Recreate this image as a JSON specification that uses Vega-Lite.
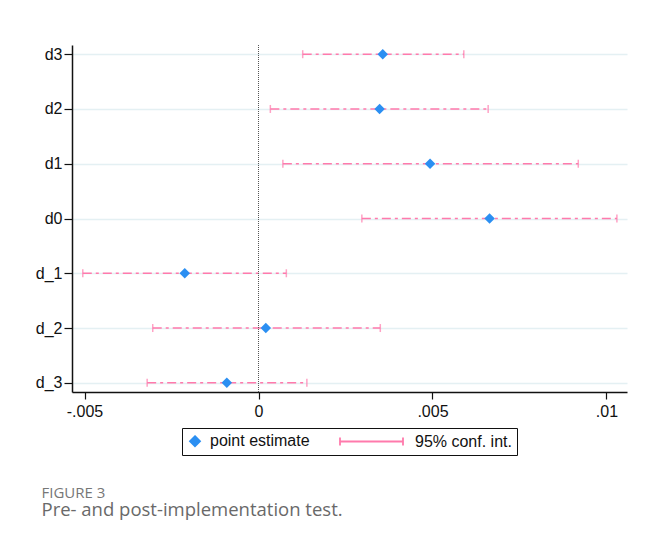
{
  "$schema": "https://vega.github.io/schema/vega-lite/v6.json",
  "autosize": {"type": "none"},
  "width": 555,
  "height": 347,
  "padding": {"left": 72, "top": 45, "right": 19, "bottom": 147},
  "background": "white",
  "config": {
    "font": "Liberation Sans",
    "view": {"stroke": null},
    "axis": {"labelFont": "Liberation Sans", "labelFontSize": 16, "labelColor": "#111", "domainColor": "#111", "tickColor": "#111", "domainWidth": 1.5, "tickWidth": 1.2, "tickSize": 7}
  },
  "data": {
    "values": [
      {"label": "d3", "est": 0.00357, "lo": 0.00127, "hi": 0.0059},
      {"label": "d2", "est": 0.00348, "lo": 0.00034, "hi": 0.0066},
      {"label": "d1", "est": 0.00493, "lo": 0.0007, "hi": 0.00919},
      {"label": "d0", "est": 0.00664, "lo": 0.00297, "hi": 0.0103},
      {"label": "d_1", "est": -0.00212, "lo": -0.00505, "hi": 0.0008},
      {"label": "d_2", "est": 0.00021, "lo": -0.00304, "hi": 0.0035},
      {"label": "d_3", "est": -0.00091, "lo": -0.0032, "hi": 0.00139}
    ]
  },
  "layer": [
    {
      "mark": {"type": "rule", "strokeDash": [9, 4, 3, 4], "strokeWidth": 1.5, "color": "#ff7aac"},
      "encoding": {
        "y": {
          "field": "label",
          "type": "nominal",
          "title": "FIGURE 3",
          "scale": {"type": "point", "domain": ["d3", "d2", "d1", "d0", "d_1", "d_2", "d_3"], "padding": 0.168},
          "axis": {
            "grid": true,
            "gridColor": "#e4f0f3",
            "gridWidth": 1.5,
            "tickSize": 8,
            "labelPadding": 2,
            "labelFontSize": 16,
            "titleAngle": 0,
            "titleX": -31,
            "titleY": 452,
            "titleAlign": "left",
            "titleBaseline": "alphabetic",
            "titleFont": "Open Sans",
            "titleFontSize": 15,
            "titleFontWeight": "normal",
            "titleColor": "#777777"
          }
        },
        "x": {
          "field": "lo",
          "type": "quantitative",
          "title": "Pre- and post-implementation test.",
          "scale": {"domain": [-0.00536, 0.01059], "nice": false, "zero": false},
          "axis": {
            "values": [-0.005, 0, 0.005, 0.01],
            "grid": false,
            "labelPadding": 4,
            "labelFontSize": 16,
            "labelExpr": "datum.value < 0 ? '-.005' : (datum.value == 0 ? '0' : (datum.value < 0.007 ? '.005' : '.01'))",
            "titleX": -31,
            "titleY": 123,
            "titleAlign": "left",
            "titleBaseline": "alphabetic",
            "titleFont": "Open Sans",
            "titleFontSize": 18.5,
            "titleFontWeight": "normal",
            "titleColor": "#696969"
          }
        },
        "x2": {"field": "hi"}
      }
    },
    {
      "mark": {"type": "tick", "color": "#ff7aac", "thickness": 1.5, "size": 8},
      "encoding": {
        "y": {"field": "label", "type": "nominal"},
        "x": {"field": "lo", "type": "quantitative"}
      }
    },
    {
      "mark": {"type": "tick", "color": "#ff7aac", "thickness": 1.5, "size": 8},
      "encoding": {
        "y": {"field": "label", "type": "nominal"},
        "x": {"field": "hi", "type": "quantitative"}
      }
    },
    {
      "mark": {"type": "rule", "strokeDash": [1, 1], "color": "#555", "strokeWidth": 1},
      "encoding": {
        "x": {"datum": 0, "type": "quantitative"}
      }
    },
    {
      "mark": {"type": "point", "shape": "diamond", "filled": true, "size": 110, "opacity": 1, "color": "#2b8ff2"},
      "encoding": {
        "y": {"field": "label", "type": "nominal"},
        "x": {"field": "est", "type": "quantitative"}
      }
    },
    {
      "data": {"values": [{"series": "point estimate"}, {"series": "95% conf. int."}]},
      "mark": {"type": "point", "opacity": 0, "filled": false},
      "encoding": {
        "color": {
          "field": "series",
          "type": "nominal",
          "scale": {"domain": ["point estimate", "95% conf. int."], "range": ["#2b8ff2", "#ff7aac"]},
          "legend": {
            "title": null,
            "orient": "none",
            "legendX": 110,
            "legendY": 383,
            "direction": "horizontal",
            "columns": 2,
            "columnPadding": 26,
            "padding": 5,
            "strokeColor": "#111",
            "symbolSize": 100,
            "symbolStrokeWidth": 1.8,
            "labelFont": "Liberation Sans",
            "labelFontSize": 16,
            "labelColor": "#111",
            "labelOffset": 7,
            "symbolOpacity": 1
          }
        },
        "shape": {
          "field": "series",
          "type": "nominal",
          "scale": {
            "domain": ["point estimate", "95% conf. int."],
            "range": [
              "M0,-1L1,0L0,1L-1,0ZM0,-0.62L0.62,0L0,0.62L-0.62,0ZM0,-0.25L0.25,0L0,0.25L-0.25,0Z",
              "M-12,-0.8L-12,0.8M-12,0L0.6,0M0.6,-0.8L0.6,0.8"
            ]
          }
        }
      }
    }
  ]
}
